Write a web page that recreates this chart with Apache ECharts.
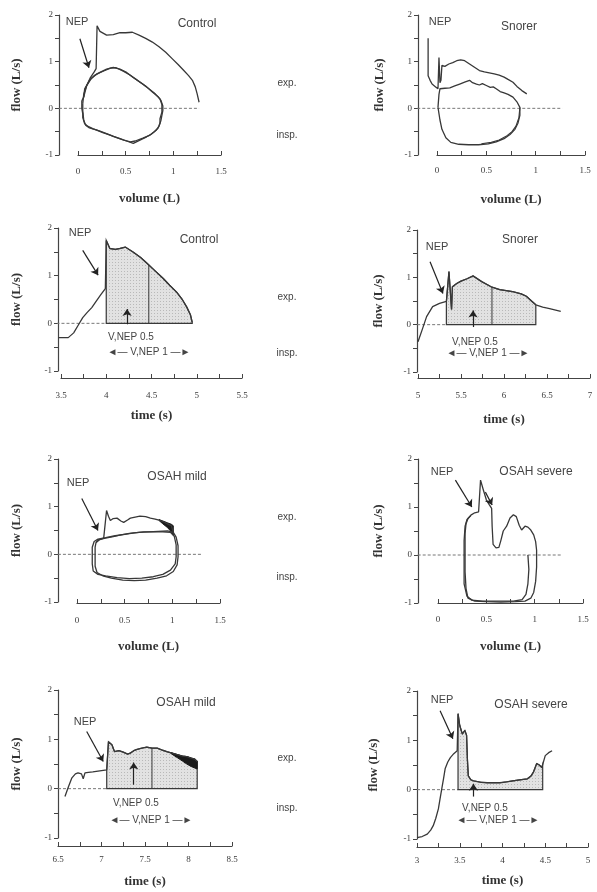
<!DOCTYPE html>
<html><head><meta charset="utf-8">
<script src="https://cdn.jsdelivr.net/npm/echarts/dist/echarts.min.js"></script>
<style>html,body{margin:0;padding:0;background:#fff}#c{width:597px;height:892px}</style>
</head><body><div id="c"></div>
<script>
// ---------------- DATA ----------------
const yTickLabels = [-1, 0, 1, 2];
const volTickLabels = [0, 0.5, 1, 1.5];
const ctrlTimeTicks = [3.5, 4, 4.5, 5, 5.5];
const snoTimeTicks = [5, 5.5, 6, 6.5, 7];
const mildTimeTicks = [6.5, 7, 7.5, 8, 8.5];
const sevTimeTicks = [3, 3.5, 4, 4.5, 5];

// Control, flow-volume
const controlFVLoopA = [[0.04,0.16],[0.06,0.24],[0.07,0.42],[0.12,0.6],[0.17,0.7],[0.23,0.77],[0.3,0.84],[0.37,0.88],[0.44,0.84],[0.51,0.77],[0.58,0.66],[0.65,0.56],[0.72,0.46],[0.78,0.35],[0.84,0.25],[0.87,0.17],[0.89,0.05],[0.89,-0.05],[0.88,-0.15],[0.87,-0.26],[0.85,-0.38],[0.82,-0.47],[0.77,-0.55],[0.72,-0.61],[0.65,-0.68],[0.58,-0.75],[0.51,-0.7],[0.44,-0.65],[0.37,-0.6],[0.3,-0.54],[0.23,-0.49],[0.16,-0.44],[0.1,-0.38],[0.07,-0.33],[0.05,-0.2],[0.05,-0.12],[0.04,0.0],[0.04,0.16]];
const controlFVLoopB = [[0.05,0.1],[0.06,0.3],[0.09,0.48],[0.14,0.64],[0.2,0.74],[0.27,0.8],[0.34,0.86],[0.4,0.87],[0.47,0.8],[0.54,0.72],[0.61,0.62],[0.68,0.52],[0.75,0.41],[0.81,0.31],[0.86,0.2],[0.88,0.08],[0.88,-0.08],[0.86,-0.22],[0.86,-0.32],[0.84,-0.42],[0.8,-0.5],[0.75,-0.58],[0.68,-0.64],[0.6,-0.7],[0.55,-0.72],[0.48,-0.68],[0.4,-0.62],[0.33,-0.57],[0.26,-0.52],[0.19,-0.46],[0.12,-0.42],[0.08,-0.36],[0.06,-0.25],[0.05,-0.05],[0.05,0.1]];
const controlFVNep = [[0.06,0.24],[0.09,0.48],[0.13,0.66],[0.17,0.78],[0.19,0.85],[0.2,1.77],[0.23,1.65],[0.3,1.57],[0.37,1.58],[0.44,1.62],[0.5,1.62],[0.57,1.63],[0.64,1.57],[0.71,1.5],[0.78,1.42],[0.85,1.32],[0.92,1.2],[0.99,1.06],[1.05,0.94],[1.11,0.81],[1.16,0.7],[1.2,0.6],[1.23,0.46],[1.25,0.31],[1.27,0.13]];

// Snorer, flow-volume
const snorerFVLoopA = [[0.01,0.02],[0.02,0.3],[0.03,0.42],[0.08,0.43],[0.13,0.44],[0.18,0.48],[0.23,0.52],[0.28,0.56],[0.33,0.6],[0.36,0.55],[0.4,0.52],[0.43,0.5],[0.46,0.53],[0.5,0.49],[0.54,0.45],[0.57,0.46],[0.6,0.42],[0.62,0.38],[0.64,0.36],[0.68,0.33],[0.72,0.3],[0.77,0.24],[0.81,0.14],[0.84,0.02],[0.84,-0.15],[0.82,-0.32],[0.79,-0.45],[0.74,-0.56],[0.68,-0.65],[0.6,-0.72],[0.52,-0.76],[0.42,-0.78],[0.32,-0.78],[0.22,-0.77],[0.14,-0.73],[0.09,-0.63],[0.05,-0.45],[0.03,-0.25],[0.01,0.02]];
const snorerFVLoopB = [[0.84,0.02],[0.83,-0.2],[0.8,-0.38],[0.76,-0.5],[0.7,-0.6],[0.63,-0.68],[0.55,-0.73],[0.45,-0.76]];
const snorerFVNep = [[-0.09,1.5],[-0.09,0.7],[-0.07,0.6],[-0.05,0.52],[-0.02,0.47],[0.01,0.42],[0.02,1.09],[0.03,0.55],[0.04,0.6],[0.05,0.92],[0.08,0.9],[0.12,0.95],[0.16,0.98],[0.2,1.02],[0.24,1.04],[0.28,1.02],[0.33,0.95],[0.38,0.88],[0.43,0.81],[0.48,0.78],[0.53,0.76],[0.58,0.74],[0.63,0.71],[0.68,0.67],[0.72,0.62],[0.77,0.56],[0.81,0.47],[0.86,0.38],[0.91,0.31]];

// Control, time
const controlTime = [[3.47,-0.3],[3.58,-0.3],[3.64,-0.2],[3.69,-0.04],[3.74,0.12],[3.79,0.23],[3.84,0.33],[3.88,0.44],[3.94,0.6],[3.99,0.73],[4.0,1.74],[4.04,1.57],[4.1,1.55],[4.15,1.57],[4.21,1.6],[4.3,1.49],[4.38,1.38],[4.45,1.26],[4.54,1.1],[4.63,0.94],[4.7,0.8],[4.78,0.65],[4.84,0.5],[4.89,0.34],[4.93,0.18],[4.95,0.02]];
const controlNepSpan = [4.0, 4.95];
const controlHalf = 4.47;
const controlV05 = 4.23;

// Snorer, time
const snorerTime = [[5.0,-0.36],[5.05,-0.1],[5.1,0.17],[5.17,0.38],[5.25,0.45],[5.33,0.49],[5.36,1.12],[5.39,0.32],[5.4,0.8],[5.45,0.87],[5.5,0.92],[5.57,0.97],[5.64,1.03],[5.74,0.91],[5.85,0.8],[5.95,0.74],[6.1,0.7],[6.2,0.65],[6.26,0.6],[6.32,0.5],[6.37,0.42],[6.45,0.37],[6.53,0.34],[6.66,0.28]];
const snorerNepSpan = [5.33, 6.37];
const snorerHalf = 5.86;
const snorerV05 = 5.64;

// OSAH mild, flow-volume
const mildFVLoopA = [[0.19,-0.1],[0.19,0.15],[0.2,0.25],[0.23,0.31],[0.3,0.34],[0.38,0.37],[0.46,0.41],[0.55,0.44],[0.65,0.46],[0.75,0.47],[0.85,0.48],[0.95,0.49],[1.01,0.46],[1.04,0.36],[1.06,0.18],[1.06,-0.05],[1.05,-0.22],[1.01,-0.36],[0.94,-0.45],[0.84,-0.5],[0.72,-0.54],[0.6,-0.55],[0.48,-0.54],[0.36,-0.5],[0.27,-0.45],[0.21,-0.38],[0.19,-0.25],[0.19,-0.1]];
const mildFVLoopB = [[0.16,-0.05],[0.16,0.15],[0.18,0.27],[0.22,0.32],[0.3,0.35],[0.4,0.39],[0.5,0.42],[0.6,0.45],[0.7,0.47],[0.8,0.47],[0.9,0.47],[0.98,0.46],[1.02,0.38],[1.04,0.2],[1.04,-0.05],[1.03,-0.2],[0.98,-0.33],[0.9,-0.42],[0.8,-0.47],[0.68,-0.5],[0.55,-0.51],[0.42,-0.49],[0.3,-0.45],[0.22,-0.42],[0.17,-0.35],[0.16,-0.2],[0.16,-0.05]];
const mildFVNep = [[0.2,0.25],[0.24,0.31],[0.28,0.34],[0.31,0.92],[0.33,0.8],[0.35,0.71],[0.38,0.75],[0.42,0.76],[0.46,0.7],[0.49,0.67],[0.53,0.72],[0.56,0.76],[0.61,0.78],[0.66,0.8],[0.72,0.79],[0.77,0.76],[0.82,0.74],[0.87,0.71],[0.91,0.68],[0.95,0.64],[0.99,0.6],[1.01,0.46]];
const mildFVBandHigh = [[0.86,0.73],[0.9,0.7],[0.95,0.66],[0.99,0.63],[1.01,0.6]];
const mildFVBandLow = [[0.86,0.71],[0.9,0.64],[0.95,0.56],[0.99,0.47],[1.01,0.4]];

// OSAH severe, flow-volume
const severeFVNep = [[0.28,0.0],[0.28,0.45],[0.29,0.65],[0.31,0.76],[0.34,0.83],[0.38,0.88],[0.42,0.9],[0.44,1.56],[0.47,1.35],[0.5,1.15],[0.53,1.05],[0.555,0.97],[0.56,0.6],[0.57,0.22],[0.6,0.15],[0.63,0.16],[0.65,0.3],[0.675,0.5],[0.71,0.6],[0.745,0.77],[0.78,0.84],[0.81,0.8],[0.84,0.62],[0.865,0.52],[0.9,0.6],[0.93,0.58],[0.96,0.52],[0.99,0.42],[1.01,0.28],[1.02,0.1],[1.02,-0.25],[1.01,-0.55],[0.99,-0.78],[0.96,-0.9],[0.9,-0.96],[0.8,-0.97],[0.65,-0.98],[0.5,-0.97],[0.38,-0.96],[0.31,-0.9],[0.29,-0.7],[0.28,-0.35],[0.28,0.0]];
const severeFVLoop = [[0.93,0.0],[0.94,-0.3],[0.93,-0.6],[0.91,-0.82],[0.87,-0.93],[0.78,-0.96],[0.62,-0.96],[0.46,-0.96],[0.35,-0.94],[0.3,-0.86],[0.27,-0.6],[0.27,-0.2],[0.27,0.3],[0.28,0.6],[0.3,0.74],[0.34,0.82]];

// OSAH mild, time
const mildTime = [[6.58,-0.16],[6.62,0.04],[6.66,0.22],[6.7,0.3],[6.73,0.32],[6.77,0.3],[6.79,0.2],[6.81,0.32],[6.85,0.33],[6.9,0.34],[6.98,0.36],[7.06,0.38],[7.08,0.95],[7.12,0.89],[7.15,0.75],[7.2,0.77],[7.25,0.74],[7.3,0.7],[7.33,0.72],[7.37,0.77],[7.4,0.79],[7.46,0.82],[7.52,0.84],[7.58,0.82],[7.64,0.82],[7.7,0.78],[7.75,0.75],[7.81,0.72],[7.87,0.69],[7.93,0.66],[7.98,0.65],[8.03,0.62],[8.07,0.6],[8.1,0.55]];
const mildNepSpan = [7.06, 8.1];
const mildHalf = 7.58;
const mildV05 = 7.37;
const mildTimeBandHigh = [[7.8,0.73],[7.87,0.69],[7.93,0.66],[7.98,0.65],[8.03,0.62],[8.07,0.6],[8.1,0.56]];
const mildTimeBandLow = [[7.8,0.71],[7.87,0.63],[7.93,0.56],[7.98,0.5],[8.03,0.45],[8.07,0.42],[8.1,0.4]];

// OSAH severe, time
const severeTime = [[3.0,-0.97],[3.06,-0.95],[3.12,-0.9],[3.16,-0.82],[3.19,-0.73],[3.22,-0.58],[3.25,-0.39],[3.27,-0.18],[3.29,0.02],[3.31,0.22],[3.33,0.43],[3.36,0.56],[3.39,0.65],[3.43,0.73],[3.47,0.79],[3.48,1.54],[3.5,1.3],[3.53,1.13],[3.56,1.2],[3.58,1.1],[3.59,0.6],[3.6,0.28],[3.63,0.2],[3.66,0.18],[3.75,0.15],[3.82,0.14],[3.9,0.14],[3.97,0.14],[4.05,0.16],[4.12,0.18],[4.2,0.2],[4.29,0.22],[4.33,0.27],[4.36,0.35],[4.4,0.53],[4.43,0.5],[4.46,0.45],[4.5,0.69],[4.54,0.75],[4.58,0.79]];
const severeNepSpan = [3.48, 4.47];
const severeV05 = 3.66;

// zero reference lines (x extents)
const zeroCtrlFV = [-0.2, 1.27];
const zeroSnoFV = [-0.2, 1.27];
const zeroMildFV = [-0.2, 1.32];
const zeroSevFV = [-0.21, 1.29];

// ---------------- helpers ----------------
const LINE = '#383838', AXIS = '#444', TXT = '#3a3a3a';
const SERIF = "'Liberation Serif','DejaVu Serif',serif";
const SANS = "'Liberation Sans','DejaVu Sans',sans-serif";
const fmt = labels => v => labels.some(l => Math.abs(l - v) < 1e-6) ? String(v) : '';
function valAt(curve, t) {
  for (let i = 0; i < curve.length - 1; i++) {
    const a = curve[i], b = curve[i + 1];
    if (b[0] > a[0] && a[0] <= t && b[0] >= t) return a[1] + (b[1] - a[1]) * (t - a[0]) / (b[0] - a[0]);
  }
  return 0;
}
function shadeOf(curve, span) {
  const inside = curve.filter(p => p[0] >= span[0] && p[0] <= span[1]);
  const pts = [[span[0], 0]].concat(inside);
  if (inside[inside.length - 1][0] < span[1]) pts.push([span[1], valAt(curve, span[1])]);
  pts.push([span[1], 0]);
  return pts;
}
function band(high, low) { return high.concat(low.slice().reverse()); }

// dotted grey texture for the shaded NEP areas
const pat = document.createElement('canvas');
pat.width = 3; pat.height = 3;
(function () { const c = pat.getContext('2d'); c.fillStyle = '#e2e2e2'; c.fillRect(0, 0, 3, 3); c.fillStyle = '#b9b9b9'; c.fillRect(1, 1, 1, 1); })();
const SHADE = { image: pat, repeat: 'repeat' };

const grids = [], xAxes = [], yAxes = [], series = [];
const idx = i => 2 * i;   // plotting grid index of panel i
function line(i, data, w, extra) {
  series.push(Object.assign({ type: 'line', xAxisIndex: idx(i), yAxisIndex: idx(i), data, symbol: 'none', showSymbol: false,
    clip: false, silent: true, animation: false, z: 3,
    lineStyle: { color: LINE, width: w || 1.3 } }, extra || {}));
}
function poly(i, pts, fill, stroke, lw) {
  series.push({ type: 'custom', xAxisIndex: idx(i), yAxisIndex: idx(i), data: pts, clip: false, silent: true, animation: false, z: 2,
    renderItem: (params, api) => {
      if (params.dataIndex !== 0) return null;
      return { type: 'polygon', shape: { points: pts.map(p => api.coord(p)) },
        style: { fill: fill, stroke: stroke || null, lineWidth: lw || 1 } };
    } });
}
function arrows(list) {
  return { symbol: ['none', 'arrow'], symbolSize: 7, silent: true, animation: false,
    label: { show: false }, lineStyle: { color: '#222', width: 1.2, type: 'solid' },
    data: list.map(a => [{ coord: a[0] }, { coord: a[1] }]) };
}
function zero(i, x0, x1, arr) {
  line(i, [[x0, 0], [x1, 0]], 1, { z: 1, lineStyle: { color: '#777', width: 1, type: [3, 2] },
    markLine: arrows(arr) });
}

const panels = [
  { left: 78, top: 15, w: 143, h: 140, yOff: 19, xOff: 0, min: 0, max: 1.5, ticks: volTickLabels, xName: 'volume (L)', xGap: 37, yGap: 36, lm: 12 },
  { left: 437, top: 15, w: 148, h: 140, yOff: 19, xOff: 0, min: 0, max: 1.5, ticks: volTickLabels, xName: 'volume (L)', xGap: 38, yGap: 32, lm: 11 },
  { left: 61, top: 228, w: 181, h: 143, yOff: 3, xOff: 7, min: 3.5, max: 5.5, ticks: ctrlTimeTicks, xName: 'time (s)', xGap: 31, yGap: 35, lm: 13 },
  { left: 418, top: 230, w: 172, h: 142, yOff: 1, xOff: 6, min: 5, max: 7, ticks: snoTimeTicks, xName: 'time (s)', xGap: 35, yGap: 32, lm: 13 },
  { left: 77, top: 459, w: 143, h: 143, yOff: 19, xOff: 1, min: 0, max: 1.5, ticks: volTickLabels, xName: 'volume (L)', xGap: 37, yGap: 35, lm: 13 },
  { left: 438, top: 459, w: 145, h: 144, yOff: 20, xOff: 0, min: 0, max: 1.5, ticks: volTickLabels, xName: 'volume (L)', xGap: 37, yGap: 33, lm: 12 },
  { left: 58, top: 690, w: 174, h: 148, yOff: 0, xOff: 8, min: 6.5, max: 8.5, ticks: mildTimeTicks, xName: 'time (s)', xGap: 29, yGap: 35, lm: 9 },
  { left: 417, top: 691, w: 171, h: 148, yOff: 0, xOff: 8, min: 3, max: 5, ticks: sevTimeTicks, xName: 'time (s)', xGap: 27, yGap: 37, lm: 9 }
];

const nameStyle = { fontFamily: SERIF, fontWeight: 'bold', fontSize: 13, color: '#333' };
panels.forEach((p, i) => {
  const ext = p.yOff * (p.max - p.min) / p.w;
  // plotting grid: starts at the y-axis line, same x scale as the visible x-axis
  grids.push({ left: p.left - p.yOff, top: p.top, width: p.w + p.yOff, height: p.h, containLabel: false });
  xAxes.push({ type: 'value', gridIndex: 2 * i, min: p.min - ext, max: p.max, show: false });
  yAxes.push({ type: 'value', gridIndex: 2 * i, min: -1, max: 2, interval: 0.5,
    axisLine: { onZero: false, lineStyle: { color: AXIS, width: 1.2 } },
    axisTick: { inside: false, length: 4, lineStyle: { color: AXIS, width: 1 } },
    axisLabel: { formatter: fmt(yTickLabels), fontFamily: SERIF, fontSize: 9, color: TXT, margin: 6 },
    splitLine: { show: false },
    name: 'flow (L/s)', nameLocation: 'middle', nameRotate: 90, nameGap: p.yGap, nameTextStyle: nameStyle });
  // axis grid: visible x-axis, offset to the right of the y-axis
  grids.push({ left: p.left, top: p.top, width: p.w, height: p.h, containLabel: false });
  xAxes.push({ type: 'value', gridIndex: 2 * i + 1, min: p.min, max: p.max, interval: 0.25, offset: p.xOff,
    axisLine: { onZero: false, lineStyle: { color: AXIS, width: 1.2 } },
    axisTick: { inside: true, length: 4, lineStyle: { color: AXIS, width: 1 } },
    axisLabel: { formatter: fmt(p.ticks), fontFamily: SERIF, fontSize: 9, color: TXT, margin: p.lm },
    splitLine: { show: false },
    name: p.xName, nameLocation: 'middle', nameGap: p.xGap, nameTextStyle: nameStyle });
  yAxes.push({ type: 'value', gridIndex: 2 * i + 1, min: -1, max: 2, show: false });
});

// Panel 0: Control FV
zero(0, zeroCtrlFV[0], zeroCtrlFV[1], [[[0.02, 1.49], [0.115, 0.87]]]);
line(0, controlFVLoopA); line(0, controlFVLoopB); line(0, controlFVNep);
// Panel 1: Snorer FV
zero(1, zeroSnoFV[0], zeroSnoFV[1], []);
line(1, snorerFVLoopA); line(1, snorerFVLoopB, 1.1); line(1, snorerFVNep);
// Panel 2: Control time
zero(2, 3.45, controlNepSpan[0], [[[3.74, 1.53], [3.91, 1.01]], [[controlV05, -0.02], [controlV05, 0.3]]]);
poly(2, shadeOf(controlTime, controlNepSpan), SHADE, LINE, 1.2);
line(2, [[controlHalf, 0], [controlHalf, valAt(controlTime, controlHalf)]], 1);
line(2, controlTime);
// Panel 3: Snorer time
zero(3, 4.99, snorerNepSpan[0], [[[5.14, 1.33], [5.29, 0.66]], [[snorerV05, -0.05], [snorerV05, 0.3]]]);
poly(3, shadeOf(snorerTime, snorerNepSpan), SHADE, LINE, 1.2);
line(3, [[snorerHalf, 0], [snorerHalf, valAt(snorerTime, snorerHalf)]], 1);
line(3, snorerTime);
// Panel 4: OSAH mild FV
zero(4, zeroMildFV[0], zeroMildFV[1], [[[0.05, 1.17], [0.22, 0.5]]]);
line(4, mildFVLoopA); line(4, mildFVLoopB); line(4, mildFVNep);
poly(4, band(mildFVBandHigh, mildFVBandLow), '#1a1a1a', '#1a1a1a', 1);
// Panel 5: OSAH severe FV
zero(5, zeroSevFV[0], zeroSevFV[1], [[[0.18, 1.56], [0.35, 1.0]], [[0.49, 1.31], [0.56, 1.04]]]);
line(5, severeFVNep); line(5, severeFVLoop);
// Panel 6: OSAH mild time
zero(6, 6.5, mildNepSpan[0], [[[6.83, 1.16], [7.02, 0.55]], [[mildV05, 0.08], [mildV05, 0.53]]]);
poly(6, shadeOf(mildTime, mildNepSpan), SHADE, LINE, 1.2);
line(6, [[mildHalf, 0], [mildHalf, valAt(mildTime, mildHalf)]], 1);
line(6, mildTime);
poly(6, band(mildTimeBandHigh, mildTimeBandLow), '#1a1a1a', '#1a1a1a', 1);
// Panel 7: OSAH severe time
zero(7, 3, severeNepSpan[0], [[[3.27, 1.6], [3.42, 1.03]], [[severeV05, -0.14], [severeV05, 0.12]]]);
poly(7, shadeOf(severeTime, severeNepSpan), SHADE, LINE, 1.2);
line(7, severeTime);

// ---------------- text annotations ----------------
const texts = [
  ['NEP', 77, 22, 11], ['Control', 197, 24, 12],
  ['NEP', 440, 22, 11], ['Snorer', 519, 27, 12],
  ['NEP', 80, 233, 11], ['Control', 199, 240, 12],
  ['NEP', 437, 247, 11], ['Snorer', 520, 240, 12],
  ['NEP', 78, 483, 11], ['OSAH mild', 177, 477, 12],
  ['NEP', 442, 472, 11], ['OSAH severe', 536, 472, 12],
  ['NEP', 85, 722, 11], ['OSAH mild', 186, 703, 12],
  ['NEP', 442, 700, 11], ['OSAH severe', 531, 705, 12],
  ['V,NEP 0.5', 131, 337, 10], ['\u25C4\u2014 V,NEP 1 \u2014\u25BA', 149, 352, 10],
  ['V,NEP 0.5', 475, 342, 10], ['\u25C4\u2014 V,NEP 1 \u2014\u25BA', 488, 353, 10],
  ['V,NEP 0.5', 136, 803, 10], ['\u25C4\u2014 V,NEP 1 \u2014\u25BA', 151, 820, 10],
  ['V,NEP 0.5', 485, 808, 10], ['\u25C4\u2014 V,NEP 1 \u2014\u25BA', 498, 820, 10],
  ['exp.', 287, 83, 10], ['insp.', 287, 135, 10],
  ['exp.', 287, 297, 10], ['insp.', 287, 353, 10],
  ['exp.', 287, 517, 10], ['insp.', 287, 577, 10],
  ['exp.', 287, 758, 10], ['insp.', 287, 808, 10]
];
const graphic = texts.map(t => ({ type: 'text', x: t[1], y: t[2], silent: true, z: 10,
  style: { text: t[0], fill: '#444', font: t[3] + 'px ' + SANS,
    textAlign: 'center', textVerticalAlign: 'middle', align: 'center', verticalAlign: 'middle' } }));

const chart = echarts.init(document.getElementById('c'), null, { renderer: 'canvas' });
chart.setOption({ animation: false, backgroundColor: '#fff', grid: grids, xAxis: xAxes, yAxis: yAxes, series, graphic });
</script></body></html>
